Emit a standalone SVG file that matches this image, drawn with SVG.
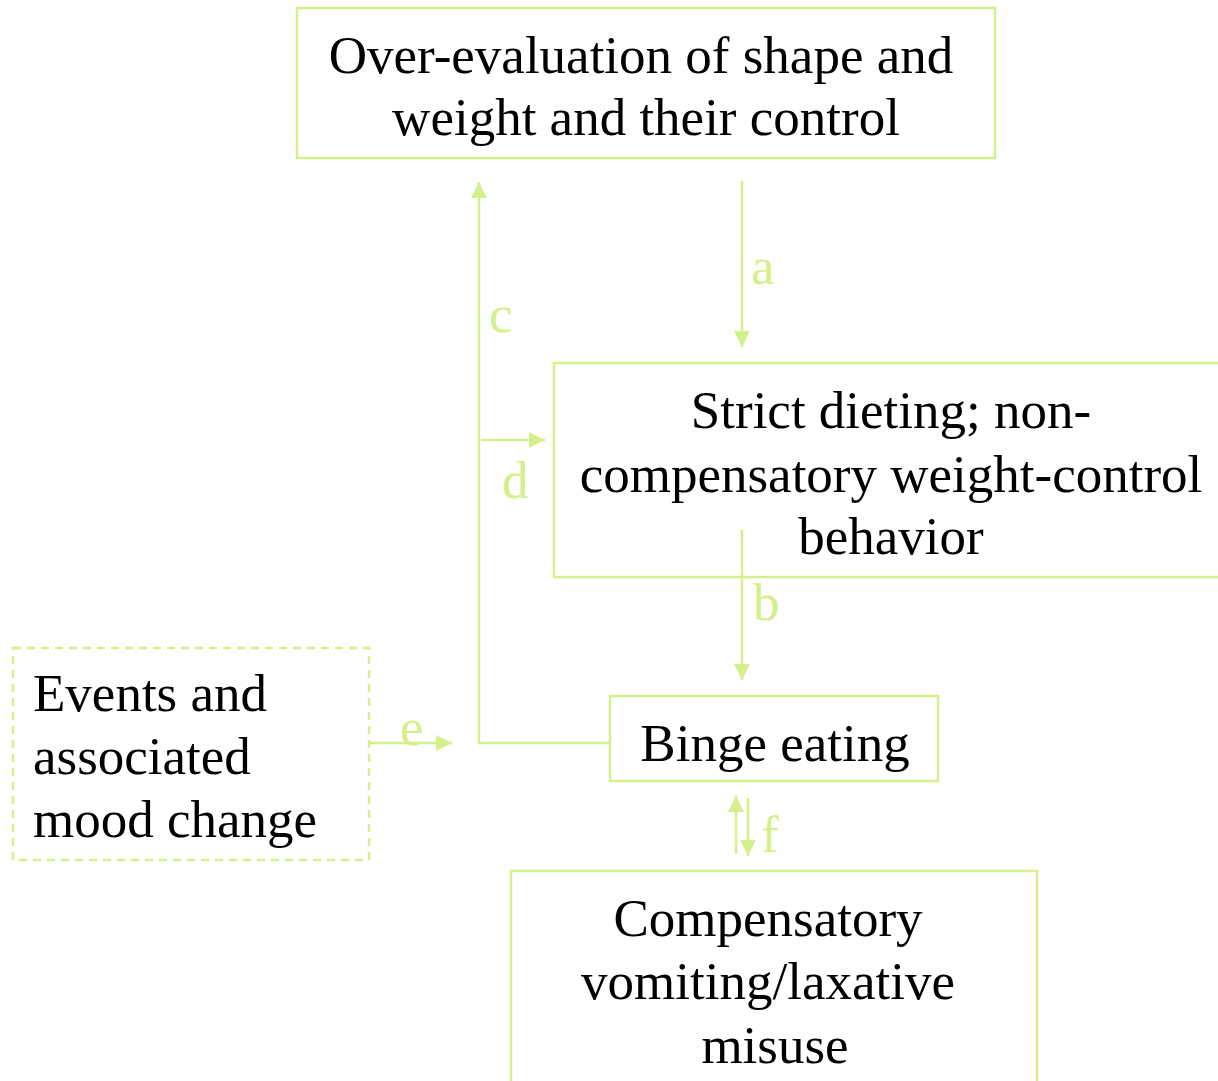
<svg xmlns="http://www.w3.org/2000/svg" width="1218" height="1081" viewBox="0 0 1218 1081">
<defs>
<style>
.box{fill:none;stroke:#d4f08a;stroke-width:2.5}
.dash{fill:none;stroke:#d4f08a;stroke-width:2.5;stroke-dasharray:8,6}
.t{font-family:"Liberation Serif",serif;font-size:53px;fill:#000}
.lbl{font-family:"Liberation Serif",serif;font-size:53px;fill:#d4f08a}
.ln{fill:none;stroke:#d4f08a;stroke-width:2.5}
</style>
<marker id="ahb" viewBox="0 0 10 10" refX="10" refY="5" markerWidth="16" markerHeight="16" markerUnits="userSpaceOnUse" orient="auto">
<path d="M0,0 L10,5 L0,10 z" fill="#d4f08a"/>
</marker>
</defs>
<rect width="1218" height="1081" fill="#fff"/>
<g id="node-overevaluation">
<rect class="box" x="297" y="8" width="698" height="150"/>
<text class="t" text-anchor="middle" x="641" y="73">Over-evaluation of shape and</text>
<text class="t" text-anchor="middle" x="646" y="135">weight and their control</text>
</g>
<g id="node-dieting">
<rect class="box" x="554" y="363" width="680" height="214"/>
<text class="t" text-anchor="middle" x="891" y="428">Strict dieting; non-</text>
<text class="t" text-anchor="middle" x="891" y="492">compensatory weight-control</text>
<text class="t" text-anchor="middle" x="891" y="554">behavior</text>
</g>
<g id="node-binge">
<rect class="box" x="610" y="696" width="328" height="85"/>
<text class="t" text-anchor="middle" x="775" y="761">Binge eating</text>
</g>
<g id="node-events">
<rect class="dash" x="13" y="648" width="356" height="212"/>
<text class="t" x="33" y="711">Events and</text>
<text class="t" x="33" y="774">associated</text>
<text class="t" x="33" y="837">mood change</text>
</g>
<g id="node-compensatory">
<rect class="box" x="511" y="871" width="526" height="230"/>
<text class="t" text-anchor="middle" x="768" y="936">Compensatory</text>
<text class="t" text-anchor="middle" x="768" y="999">vomiting/laxative</text>
<text class="t" text-anchor="middle" x="775" y="1063">misuse</text>
</g>
<g id="connectors">
<line class="ln" x1="742" y1="181" x2="742" y2="347" marker-end="url(#ahb)"/>
<text class="lbl" x="751" y="284">a</text>
<line class="ln" x1="742" y1="530" x2="742" y2="680" marker-end="url(#ahb)"/>
<text class="lbl" x="753" y="620">b</text>
<polyline class="ln" points="610,743 479,743 479,182" marker-end="url(#ahb)"/>
<text class="lbl" x="489" y="332">c</text>
<line class="ln" x1="481" y1="440" x2="545" y2="440" marker-end="url(#ahb)"/>
<text class="lbl" x="502" y="498">d</text>
<line class="ln" x1="369" y1="743" x2="452" y2="743" marker-end="url(#ahb)"/>
<text class="lbl" x="400" y="745">e</text>
<line class="ln" x1="736" y1="854" x2="736" y2="796" marker-end="url(#ahb)"/>
<line class="ln" x1="748" y1="798" x2="748" y2="856" marker-end="url(#ahb)"/>
<text class="lbl" x="761" y="852">f</text>
</g>
</svg>
